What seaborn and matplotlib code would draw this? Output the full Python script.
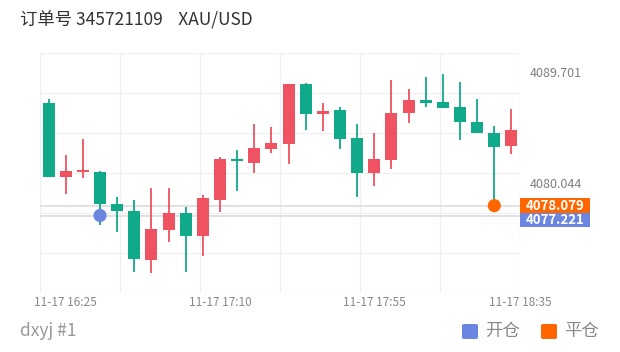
import matplotlib
matplotlib.use("Agg")
import matplotlib.pyplot as plt
from matplotlib.patches import FancyBboxPatch, Rectangle
import matplotlib.transforms as mtransforms
import numpy as np
import pandas as pd
import seaborn as sns

# ---------------- data ----------------
times = ["16:20", "16:25", "16:30", "16:35", "16:40", "16:45", "16:50", "16:55",
         "17:00", "17:05", "17:10", "17:15", "17:20", "17:25", "17:30", "17:35",
         "17:40", "17:45", "17:50", "17:55", "18:00", "18:05", "18:10", "18:15",
         "18:20", "18:25", "18:30", "18:35"]
opens = [4086.99, 4080.58, 4081.01, 4081.04, 4078.23, 4077.62, 4073.33, 4075.97,
         4077.47, 4075.47, 4078.60, 4082.17, 4081.82, 4082.99, 4083.45, 4088.67,
         4086.03, 4086.41, 4083.94, 4080.90, 4082.06, 4086.12, 4087.28, 4087.10,
         4086.69, 4085.39, 4084.38, 4083.27]
highs = [4087.34, 4082.49, 4083.86, 4081.10, 4078.86, 4078.58, 4079.59, 4079.65,
         4077.99, 4079.01, 4082.34, 4082.93, 4085.19, 4084.95, 4088.69, 4088.78,
         4086.99, 4086.64, 4085.19, 4084.43, 4089.02, 4088.23, 4089.30, 4089.50,
         4088.87, 4087.34, 4085.01, 4086.47]
lows = [4080.60, 4079.07, 4080.46, 4076.40, 4075.82, 4072.34, 4072.20, 4074.92,
        4072.29, 4073.73, 4077.51, 4079.38, 4080.90, 4082.64, 4081.71, 4084.67,
        4084.58, 4082.99, 4078.86, 4079.79, 4081.25, 4085.25, 4086.64, 4086.58,
        4083.80, 4084.38, 4078.079, 4082.55]
closes = [4080.60, 4081.12, 4081.19, 4078.20, 4077.62, 4073.42, 4076.03, 4077.47,
          4075.44, 4078.78, 4082.17, 4081.97, 4083.07, 4083.56, 4088.67, 4086.03,
          4086.32, 4083.88, 4080.90, 4082.12, 4086.17, 4087.28, 4087.04, 4086.58,
          4085.34, 4084.40, 4083.16, 4084.67]

xtick_labels = ["11-17 16:25", "11-17 17:10", "11-17 17:55", "11-17 18:35"]
xtick_times = ["16:25", "17:10", "17:55", "18:35"]
ytick_values = [4089.701, 4080.044]

trade_kind = ["开仓", "平仓"]
trade_time = ["16:35", "18:30"]
trade_price = [4077.221, 4078.079]

title_text = "订单号 345721109    XAU/USD"
footer_text = "dxyj #1"

# ---------------- style ----------------
UP = "#ef5261"      # red = rise
DOWN = "#10a98a"    # green = fall
OPEN_C = "#6a86e0"
CLOSE_C = "#ff6600"
GRID = "#f0f0f0"

sns.set_theme(style="white")
plt.rcParams["font.family"] = ["Noto Sans CJK SC", "DejaVu Sans"]

df = pd.DataFrame({"time": times, "open": opens, "high": highs,
                   "low": lows, "close": closes})
df["x"] = np.arange(len(df))
df["up"] = df["close"] >= df["open"]
df["color"] = np.where(df["up"], UP, DOWN)

W, H = 620, 352
fig = plt.figure(figsize=(W / 100, H / 100), dpi=100)
ax = fig.add_axes([40 / W, 59 / H, 480 / W, 240 / H])

n = len(df)
xmin, xmax = -0.5, n - 0.5
ymin, ymax = 4070.48, 4091.36
ax.set_xlim(xmin, xmax)
ax.set_ylim(ymin, ymax)

# grid (6 x 6 cells)
for gx in np.linspace(xmin, xmax, 7):
    ax.axvline(gx, color=GRID, lw=1, zorder=0)
for gy in np.linspace(ymin, ymax, 7):
    ax.axhline(gy, color=GRID, lw=1, zorder=0)

# price level lines
for p in trade_price:
    ax.axhline(p, color="#dcdcdc", lw=1.2, zorder=1)

# wicks
ax.vlines(df["x"], df["low"], df["high"], colors=df["color"], lw=1.3, zorder=2)
# bodies
body_bottom = np.minimum(df["open"], df["close"])
body_h = np.maximum(np.abs(df["close"] - df["open"]), 0.03)
ax.bar(df["x"], body_h, bottom=body_bottom, width=0.7, color=df["color"],
       linewidth=0, zorder=3)

# trade markers
tr = pd.DataFrame({"kind": trade_kind,
                   "x": [times.index(t) for t in trade_time],
                   "price": trade_price})
sns.scatterplot(data=tr, x="x", y="price", hue="kind",
                palette={"开仓": OPEN_C, "平仓": CLOSE_C},
                s=90, edgecolor="none", legend=False, zorder=5, ax=ax)

# axes formatting
for s in ax.spines.values():
    s.set_visible(False)
ax.set_xlabel("")
ax.set_ylabel("")
ax.set_xticks([times.index(t) for t in xtick_times])
ax.set_xticklabels(xtick_labels, fontsize=8.5, color="#888888")
ax.tick_params(axis="x", length=0, pad=2)
last = ax.get_xticklabels()[-1]
last.set_transform(last.get_transform() +
                   mtransforms.ScaledTranslation(9 / 100, 0, fig.dpi_scale_trans))
ax.yaxis.tick_right()
ax.set_yticks(ytick_values)
ax.set_yticklabels([f"{v:.3f}" for v in ytick_values], fontsize=9, color="#808080")
ax.tick_params(axis="y", length=0, pad=7)
ax.set_xlim(xmin, xmax)
ax.set_ylim(ymin, ymax)

# right side price tags (closing tag drawn on top, opening tag pushed below it)
y_close = ax.transData.transform((0, trade_price[1]))[1]
tag_h = 15
close_box_bottom = y_close - tag_h / 2
open_center = close_box_bottom - tag_h / 2 + 1
tag_specs = [(trade_price[0], OPEN_C, open_center, 8),
             (trade_price[1], CLOSE_C, y_close, 11)]
for price, col, yc, z in tag_specs:
    fig.patches.append(Rectangle((520 / W, (yc - tag_h / 2) / H), 70 / W, tag_h / H,
                                 transform=fig.transFigure, fc=col, ec="none",
                                 zorder=z))
    fig.text(555 / W, yc / H, f"{price:.3f}", fontsize=9.5, color="white",
             fontweight="bold", ha="center", va="center", zorder=z + 1)

# title & footer
fig.text(20 / W, 1 - 20 / H, title_text, fontsize=12.5, color="#333333",
         ha="left", va="center")
fig.text(20 / W, 1 - 331 / H, footer_text, fontsize=12.5, color="#999999",
         ha="left", va="center")

# legend (bottom right)
legend_items = [("开仓", OPEN_C, 462), ("平仓", CLOSE_C, 541)]
for label, col, px in legend_items:
    fig.patches.append(FancyBboxPatch((px / W, 1 - 339 / H), 16 / W, 15 / H,
                                      boxstyle="round,pad=0,rounding_size=0.004",
                                      transform=fig.transFigure, fc=col, ec="none"))
    fig.text((px + 23) / W, 1 - 331 / H, label, fontsize=12.5, color="#888888",
             ha="left", va="center")

fig.savefig("out.png", dpi=100)
